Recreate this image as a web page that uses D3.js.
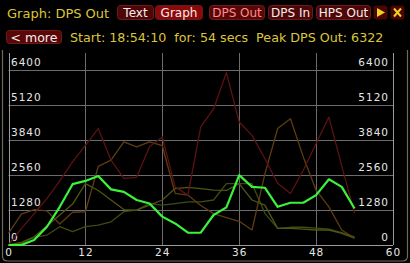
<!DOCTYPE html>
<html lang="en">
<head>
<meta charset="UTF-8">
<title>DPS Out graph</title>
<script src="https://d3js.org/d3.v7.min.js"></script>
<style>
  body { margin: 0; background: #000; overflow: hidden; }
  svg { display: block; }
  .hdr { font-family: 'DejaVu Sans', sans-serif; fill: #dcc63a; }
  .btn text { font-family: 'DejaVu Sans', sans-serif; font-size: 12px; text-anchor: middle; }
  .tick { font-family: 'DejaVu Sans', sans-serif; font-size: 10.5px; fill: #e6e6e6; letter-spacing: 1px; }
</style>
</head>
<body>
<svg id="chart" width="410" height="263"></svg>
<script>
// seconds since start, one sample every 2 s
const times = [0, 2, 4, 6, 8, 10, 12, 14, 16, 18, 20, 22, 24, 26, 28, 30, 32, 34, 36, 38, 40, 42, 44, 46, 48, 50, 52, 54];

// DPS per source
const mine   = [0, 0, 180, 670, 1400, 2230, 2350, 2530, 2040, 1950, 1650, 1520, 1040, 790, 450, 450, 1100, 1380, 2560, 2130, 2100, 1400, 1550, 1550, 1830, 2410, 2130, 1340];
const red    = [0, 600, 1150, 1700, 2350, 3050, 3650, 4270, 3110, 2440, 2480, 3600, 3960, 2130, 1830, 4330, 4990, 6320, 4510, 4020, 3170, 2260, 1890, 2740, 3720, 4690, 2900, 1160];
const orange = [430, 1130, 1300, 1250, 770, 1200, 1220, 2880, 3110, 3780, 3600, 3780, 3640, 1890, 1830, 1450, 1150, 1000, 870, 550, 2600, 4270, 4630, 3230, 2010, 1400, 550, 250];
const olive  = [0, 100, 300, 700, 1100, 1500, 2250, 2000, 1650, 1300, 1280, 1460, 1650, 2070, 2110, 2070, 2010, 2000, 2250, 1650, 1460, 610, 610, 580, 550, 550, 430, 250];
const dkgrn  = [0, 60, 280, 365, 670, 490, 670, 730, 850, 1220, 1280, 1520, 1460, 1520, 1580, 1580, 1650, 2250, 2250, 2250, 1160, 610, 650, 650, 620, 580, 450, 300];

const yTicks = [0, 1280, 2560, 3840, 5120, 6400];
const xTicks = [0, 12, 24, 36, 48, 60];

const buttons = [
  { label: 'Text',    x0: 117, x1: 153, fill: '#4e0606', text: '#f4eeee' },
  { label: 'Graph',   x0: 155, x1: 202, fill: '#8a0a0a', text: '#ffe8e8' },
  { label: 'DPS Out', x0: 209, x1: 264, fill: '#5a0707', text: '#ff8c8c' },
  { label: 'DPS In',  x0: 268, x1: 312, fill: '#4e0606', text: '#f4eeee' },
  { label: 'HPS Out', x0: 316, x1: 370, fill: '#4e0606', text: '#f4eeee' }
];

const svg = d3.select('#chart');

const x = d3.scaleLinear().domain([0, 60]).range([8.5, 393]);
const y = d3.scaleLinear().domain([0, 7040]).range([245, 53]);

// window frame
svg.append('path')
  .attr('d', 'M2.5,50 V256 Q2.5,261 7.5,261 H402.5 Q407.5,261 407.5,256 V50')
  .attr('fill', 'none').attr('stroke', '#6e6a62').attr('stroke-width', 1.2);

// header
svg.append('text').attr('class', 'hdr').attr('x', 7).attr('y', 17.5)
  .attr('font-size', 13).text('Graph: DPS Out');

const btn = svg.selectAll('.btn').data(buttons).enter().append('g').attr('class', 'btn');
btn.append('rect')
  .attr('x', d => d.x0 + 0.5).attr('y', 5.5)
  .attr('width', d => d.x1 - d.x0).attr('height', 14)
  .attr('rx', 3).attr('fill', d => d.fill)
  .attr('stroke', '#6a1c1c').attr('stroke-width', 1);
btn.append('text')
  .attr('x', d => (d.x0 + d.x1) / 2 + 0.5).attr('y', 17)
  .attr('fill', d => d.text).text(d => d.label);

// play and close icons
svg.append('rect').attr('x', 373.5).attr('y', 5.5).attr('width', 14).attr('height', 14)
  .attr('rx', 3).attr('fill', '#4a0505');
svg.append('path').attr('d', 'M377,8 L385,12.5 L377,17 Z').attr('fill', '#f0d020');
svg.append('rect').attr('x', 390.5).attr('y', 5.5).attr('width', 14).attr('height', 14)
  .attr('rx', 3).attr('fill', '#4a0505');
svg.append('path').attr('d', 'M394,8.5 L401,16.5 M401,8.5 L394,16.5')
  .attr('stroke', '#f0d020').attr('stroke-width', 2);

// second row
svg.append('rect').attr('x', 6.5).attr('y', 30.5).attr('width', 55).attr('height', 13)
  .attr('rx', 3).attr('fill', '#5a0707').attr('stroke', '#6a1c1c');
svg.append('text').attr('x', 34).attr('y', 41.5).attr('text-anchor', 'middle')
  .attr('font-family', 'DejaVu Sans, sans-serif').attr('font-size', 12.5)
  .attr('fill', '#f4eeee').text('< more');
svg.append('text').attr('class', 'hdr').attr('x', 70).attr('y', 41.5)
  .attr('font-size', 12.7).attr('xml:space', 'preserve')
  .text('Start: 18:54:10  for: 54 secs  Peak DPS Out: 6322');

// grid
const grid = svg.append('g');
grid.selectAll('.hg').data(yTicks).enter().append('line')
  .attr('x1', x(0)).attr('x2', x(60))
  .attr('y1', d => Math.round(y(d)) + 0.5).attr('y2', d => Math.round(y(d)) + 0.5)
  .attr('stroke', d => d === 0 ? '#9a9a9a' : '#6c6c6c');
grid.selectAll('.vg').data(xTicks).enter().append('line')
  .attr('x1', d => Math.round(x(d)) + 0.5).attr('x2', d => Math.round(x(d)) + 0.5)
  .attr('y1', y.range()[1]).attr('y2', y(0))
  .attr('stroke', d => (d === 0 || d === 60) ? '#9a9a9a' : '#6c6c6c');

// tick labels
svg.selectAll('.yl').data(yTicks).enter().append('text').attr('class', 'tick')
  .attr('x', 11).attr('y', d => y(d) - 4).text(d => d);
svg.selectAll('.yr').data(yTicks).enter().append('text').attr('class', 'tick')
  .attr('x', 389).attr('y', d => y(d) - 4).attr('text-anchor', 'end').text(d => d);
svg.selectAll('.xl').data(xTicks).enter().append('text').attr('class', 'tick')
  .attr('x', d => x(d) + 0.5).attr('y', 255.5).attr('text-anchor', 'middle').text(d => d);

// series
const series = [
  { vals: dkgrn,  color: '#3b4d12', w: 1.3 },
  { vals: olive,  color: '#4f5512', w: 1.3 },
  { vals: orange, color: '#5e3c12', w: 1.3 },
  { vals: red,    color: '#5c1212', w: 1.3 },
  { vals: mine,   color: '#3cf23c', w: 2.2 }
];
const line = d3.line().x((d, i) => x(times[i])).y(d => y(d));
svg.selectAll('.series').data(series).enter().append('path')
  .attr('fill', 'none')
  .attr('stroke', d => d.color).attr('stroke-width', d => d.w)
  .attr('stroke-linejoin', 'round')
  .attr('d', d => line(d.vals));
</script>
</body>
</html>
